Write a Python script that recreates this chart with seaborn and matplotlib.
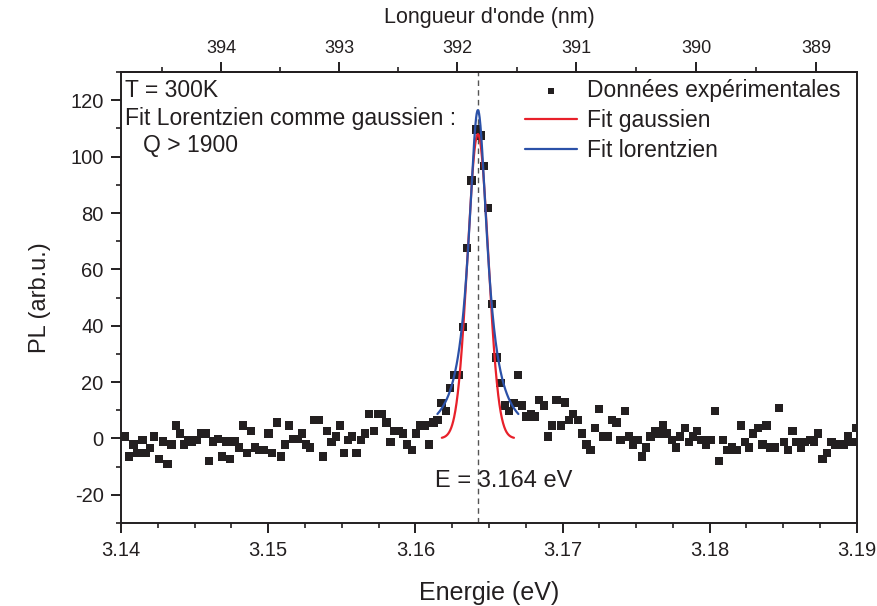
#!/usr/bin/env python3
"""
PL spectrum at 300K with gaussian and lorentzian fits.
"""
import numpy as np
import pandas as pd
import matplotlib
matplotlib.use("Agg")
import matplotlib.pyplot as plt
from matplotlib.ticker import MultipleLocator
import seaborn as sns

# Measured points (energy in eV, PL in arb. units)
energy = [
    3.14027, 3.14056, 3.14084, 3.14113, 3.14145, 3.14170, 3.14197, 3.14226, 3.14258, 3.14287,
    3.14315, 3.14344, 3.14372, 3.14401, 3.14430, 3.14457, 3.14484, 3.14514, 3.14543, 3.14575,
    3.14600, 3.14627, 3.14657, 3.14684, 3.14713, 3.14740, 3.14770, 3.14802, 3.14831, 3.14858,
    3.14883, 3.14910, 3.14940, 3.14971, 3.15001, 3.15028, 3.15058, 3.15085, 3.15114, 3.15141,
    3.15171, 3.15199, 3.15228, 3.15257, 3.15284, 3.15313, 3.15345, 3.15374, 3.15401, 3.15431,
    3.15459, 3.15488, 3.15517, 3.15544, 3.15571, 3.15601, 3.15630, 3.15658, 3.15687, 3.15719,
    3.15748, 3.15775, 3.15805, 3.15832, 3.15857, 3.15889, 3.15918, 3.15945, 3.15975, 3.16004,
    3.16036, 3.16065, 3.16092, 3.16123, 3.16150, 3.16177, 3.16208, 3.16235, 3.16264, 3.16296,
    3.16325, 3.16353, 3.16382, 3.16410, 3.16444, 3.16468, 3.16495, 3.16522, 3.16552, 3.16579,
    3.16610, 3.16638, 3.16670, 3.16699, 3.16726, 3.16756, 3.16787, 3.16815, 3.16841, 3.16874,
    3.16903, 3.16930, 3.16960, 3.16989, 3.17018, 3.17046, 3.17073, 3.17107, 3.17134, 3.17164,
    3.17191, 3.17220, 3.17249, 3.17277, 3.17306, 3.17336, 3.17368, 3.17395, 3.17426, 3.17453,
    3.17480, 3.17510, 3.17541, 3.17567, 3.17599, 3.17628, 3.17657, 3.17684, 3.17711, 3.17743,
    3.17772, 3.17798, 3.17832, 3.17861, 3.17888, 3.17915, 3.17945, 3.17974, 3.18006, 3.18035,
    3.18065, 3.18092, 3.18122, 3.18153, 3.18183, 3.18212, 3.18239, 3.18268, 3.18296, 3.18329,
    3.18359, 3.18387, 3.18414, 3.18443, 3.18472, 3.18504, 3.18533, 3.18563, 3.18590, 3.18620,
    3.18647, 3.18681, 3.18708, 3.18737, 3.18767, 3.18798, 3.18828, 3.18855, 3.18885, 3.18912,
    3.18941, 3.18971, 3.18993,
]
pl = [
    0.7, -6.4, -2.2, -5.2, -0.5, -5.2, -3.4, 0.7, -7.3, -1.1,
    -9.1, -2.2, 4.6, 1.7, -2.2, -0.5, -1.1, -0.5, 1.7, 1.7,
    -8.1, -1.1, -0.2, -6.4, -1.1, -7.3, -1.1, -3.2, 4.6, -5.2,
    2.7, -3.2, -4.2, -4.2, 1.7, -5.2, 5.7, -6.4, -2.2, 4.6,
    -0.2, -0.3, 1.7, -2.2, -3.2, 6.6, 6.6, -6.4, 2.7, -1.3,
    0.7, 4.6, -5.2, -0.5, 0.7, -5.2, -0.5, 1.7, 8.7, 2.7,
    8.7, 8.7, 5.7, -1.3, 2.7, 2.7, 1.7, -2.2, -4.2, 1.7,
    4.6, 4.6, -2.2, 5.7, 6.6, 12.5, 9.8, 17.8, 22.5, 22.5,
    39.6, 67.6, 91.5, 109.6, 107.5, 96.6, 81.8, 47.7, 28.7, 19.6,
    11.7, 9.8, 12.5, 22.5, 11.7, 7.8, 8.7, 7.8, 13.7, 11.7,
    0.7, 4.6, 13.7, 4.6, 12.7, 6.6, 8.7, 6.6, 1.7, -2.2,
    -4.2, 3.6, 10.5, 0.7, 0.7, 6.6, 5.7, -0.5, 9.8, 0.7,
    -2.2, -0.5, -6.4, -3.2, 0.7, 2.7, 1.7, 4.6, 1.7, -0.5,
    -3.2, 0.7, 3.6, -1.3, 0.7, 2.7, -0.5, -2.2, -0.5, 9.8,
    -8.1, -0.5, -4.2, -3.2, -4.2, 4.6, -1.3, -3.2, 1.7, 3.6,
    -2.2, 4.6, -3.2, -3.2, 10.7, -1.3, -4.2, 2.7, -1.3, -3.2,
    -1.3, -0.5, -1.3, 1.7, -7.3, -5.2, -1.3, -2.2, -2.2, -2.2,
    0.7, -1.3, 3.6,
]

# Fit parameters
peak_energy = 3.16425
gauss_amp = 108.0
gauss_sigma = 0.00070
gauss_range = (3.1618, 3.1667)
lor_amp = 116.5
lor_hwhm = 0.00078
lor_range = (3.1615, 3.1670)

HC = 1239.84  # eV.nm

df = pd.DataFrame({"energy": energy, "pl": pl})

eg = np.linspace(*gauss_range, 300)
fit_g = pd.DataFrame({"energy": eg,
                      "pl": gauss_amp * np.exp(-(eg - peak_energy) ** 2 / (2 * gauss_sigma ** 2))})
el = np.linspace(*lor_range, 300)
fit_l = pd.DataFrame({"energy": el,
                      "pl": lor_amp * lor_hwhm ** 2 / ((el - peak_energy) ** 2 + lor_hwhm ** 2)})

sns.set_style("ticks")
plt.rcParams['font.family'] = ['Liberation Sans', 'DejaVu Sans']
plt.rcParams['axes.unicode_minus'] = False

ink = '#231f20'

fig = plt.figure(figsize=(8.77, 6.06), dpi=100)
ax = fig.add_axes([0.138, 0.137, 0.839, 0.744])

ax.axvline(peak_energy, color='#555555', lw=1.0, ls=(0, (4, 3)), zorder=1)

sns.scatterplot(data=df, x="energy", y="pl", marker='s', s=36, color=ink,
                edgecolor='none', label="Données expérimentales", ax=ax, zorder=3)
sns.lineplot(data=fit_g, x="energy", y="pl", color='#e8202a', lw=1.6,
             label="Fit gaussien", ax=ax, zorder=4)
sns.lineplot(data=fit_l, x="energy", y="pl", color='#2b51a8', lw=1.6,
             label="Fit lorentzien", ax=ax, zorder=5)

ax.set_xlim(3.14, 3.19)
ax.set_ylim(-30, 130)
ax.xaxis.set_major_locator(MultipleLocator(0.01))
ax.xaxis.set_minor_locator(MultipleLocator(0.0025))
ax.yaxis.set_major_locator(MultipleLocator(20))
ax.yaxis.set_minor_locator(MultipleLocator(10))
ax.xaxis.set_major_formatter(plt.FuncFormatter(lambda v, p: f"{v:.2f}"))

for s in ax.spines.values():
    s.set_linewidth(1.4)
    s.set_color(ink)
ax.tick_params(which='major', direction='out', length=7, width=1.4, labelsize=14.5,
               colors=ink, top=False, right=False)
ax.tick_params(which='minor', direction='out', length=3.6, width=1.2,
               colors=ink, top=False, right=False)
ax.tick_params(axis='y', which='major', pad=5.5)
ax.tick_params(axis='x', which='major', pad=6)

ax.set_xlabel("Energie (eV)", fontsize=18, color=ink, labelpad=15)
ax.set_ylabel("PL (arb.u.)", fontsize=17, color=ink, labelpad=14)

# wavelength scale on top
def e_to_nm(e):
    e = np.asarray(e, dtype=float)
    return HC / np.where(e == 0, 1e-9, e)

secax = ax.secondary_xaxis('top', functions=(e_to_nm, e_to_nm))
secax.set_xticks([394, 393, 392, 391, 390, 389])
secax.set_xticks([394.5, 393.5, 392.5, 391.5, 390.5, 389.5], minor=True)
secax.set_xticklabels(["394", "393", "392", "391", "390", "389"])
secax.tick_params(which='major', direction='out', length=7, width=1.4, labelsize=13,
                  colors=ink, pad=4)
secax.tick_params(which='minor', direction='out', length=3.6, width=1.2, colors=ink)
secax.spines['top'].set_linewidth(1.4)
secax.set_xlabel("Longueur d'onde (nm)", fontsize=15.5, color=ink, labelpad=12)

ax.text(0.006, 0.96, "T = 300K", transform=ax.transAxes, fontsize=16.5,
        va='center', ha='left', color=ink)
ax.text(0.006, 0.898, "Fit Lorentzien comme gaussien :", transform=ax.transAxes,
        fontsize=16.5, va='center', ha='left', color=ink)
ax.text(0.03, 0.838, "Q > 1900", transform=ax.transAxes, fontsize=16.5,
        va='center', ha='left', color=ink)
ax.text(3.16133, -15.2, "E = 3.164 eV", fontsize=17, va='center', ha='left',
        color=ink)

leg = ax.legend(loc='upper right', bbox_to_anchor=(0.982, 0.993), frameon=False,
                fontsize=16.5, handlelength=2.3, handletextpad=0.4, labelspacing=0.32,
                borderaxespad=0, borderpad=0.15, markerscale=0.75)
for t in leg.get_texts():
    t.set_color(ink)

fig.savefig("out.png", dpi=100)
